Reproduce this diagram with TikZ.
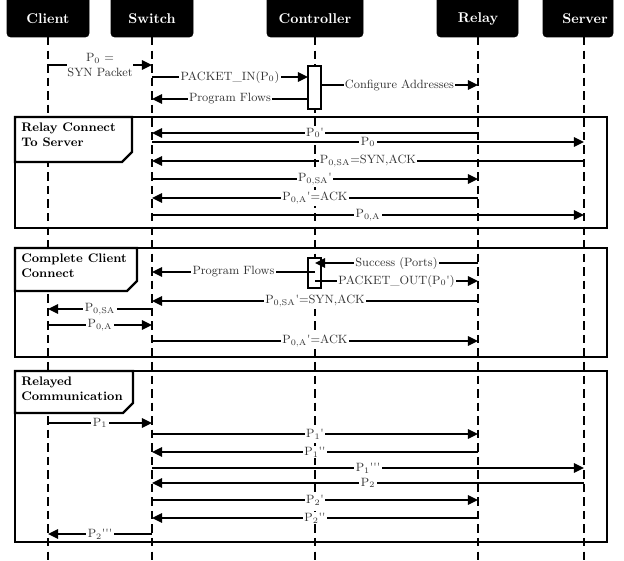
\documentclass[tikz,border=0pt]{standalone}
\usetikzlibrary{arrows.meta}
\newcommand{\pr}{\textquotesingle}
\newcommand{\Pk}[1]{P\textsubscript{#1}}
\begin{document}
\begin{tikzpicture}[x=0.709pt,y=-0.709pt,
  hdrbox/.style={fill=black,draw=black,rounded corners=2.5pt},
  hdrtext/.style={text=white,font=\bfseries,inner sep=0pt},
  life/.style={line width=1.4pt,dash pattern=on 6pt off 3.6pt},
  msg/.style={line width=0.95pt,-{Triangle[length=7.2pt,width=6.8pt]}},
  lbl/.style={midway,fill=white,inner sep=1pt,font=\fontsize{8.5}{10}\selectfont,text=black!80},
  frm/.style={line width=1.6pt},
  tab/.style={line width=1.6pt,fill=white},
  ttl/.style={anchor=north west,inner sep=0pt,align=left,font=\fontsize{8.8}{10.5}\selectfont\bfseries},
  act/.style={line width=0.9pt,fill=white}]
\useasboundingbox (0,0) rectangle (624,561);
% lifeline coordinates
\coordinate (cl) at (48,37);
\coordinate (sw) at (152,37);
\coordinate (co) at (315,37);
\coordinate (re) at (478,37);
\coordinate (se) at (584,37);
\coordinate (a1w) at (308,0);
\coordinate (a1e) at (321,0);
% headers
\draw[hdrbox] (7,-8) rectangle (89,37);
\draw[hdrbox] (111,-8) rectangle (193,37);
\draw[hdrbox] (267,-8) rectangle (363,37);
\draw[hdrbox] (437,-8) rectangle (518,37);
\draw[hdrbox] (543,-8) rectangle (613,37);
\node[hdrtext] (hcl) at (48,19) {Client};
\node[hdrtext] (hsw) at (152,19) {Switch};
\node[hdrtext] (hco) at (315,19) {Controller};
\node[hdrtext] (hre) at (478,19) {Relay};
\node[hdrtext] (hse) at (585,19) {Server};
% lifelines
\foreach \l in {cl,sw,co,re,se} \draw[life] (\l) -- (\l |- 0,566);
% frames
\draw[frm] (15,117) rectangle (607,228);
\draw[tab] (15,117) -- (132,117) -- (132,152) -- (122,162) -- (15,162) -- cycle;
\node[ttl] (t1) at (21,123) {Relay Connect\\To Server};
\draw[frm] (15,248) rectangle (607,357);
\draw[tab] (15,248) -- (137,248) -- (137,281) -- (127,291) -- (15,291) -- cycle;
\node[ttl] (t2) at (21,254) {Complete Client\\Connect};
\draw[frm] (15,371) rectangle (607,542);
\draw[tab] (15,371) -- (133,371) -- (133,403) -- (123,413) -- (15,413) -- cycle;
\node[ttl] (t3) at (21,377) {Relayed\\Communication};
% activations
\draw[act] (308,66) rectangle (321,109);
\draw[act] (308,258) rectangle (321,288);
% top messages
\draw[msg] (cl |- 0,65) -- node[lbl,align=center,inner sep=0.5pt]{\Pk{0} =\\SYN Packet} (sw |- 0,65);
\draw[msg] (sw |- 0,77) -- node[lbl]{PACKET\_IN(\Pk{0})} (a1w |- 0,77);
\draw[msg] (a1e |- 0,85) -- node[lbl]{Configure Addresses} (re |- 0,85);
\draw[msg] (a1w |- 0,99) -- node[lbl]{Program Flows} (sw |- 0,99);
% frame 1
\draw[msg] (re |- 0,133) -- node[lbl]{\Pk{0}\pr} (sw |- 0,133);
\draw[msg] (sw |- 0,142) -- node[lbl]{\Pk{0}} (se |- 0,142);
\draw[msg] (se |- 0,161) -- node[lbl]{\Pk{0,SA}=SYN,ACK} (sw |- 0,161);
\draw[msg] (sw |- 0,179) -- node[lbl]{\Pk{0,SA}\pr} (re |- 0,179);
\draw[msg] (re |- 0,198) -- node[lbl]{\Pk{0,A}\pr=ACK} (sw |- 0,198);
\draw[msg] (sw |- 0,215) -- node[lbl]{\Pk{0,A}} (se |- 0,215);
% frame 2
\draw[msg] (re |- 0,263) -- node[lbl]{Success (Ports)} (co |- 0,263);
\draw[msg] (co |- 0,272) -- node[lbl]{Program Flows} (sw |- 0,272);
\draw[msg] (co |- 0,281) -- node[lbl]{PACKET\_OUT(\Pk{0}\pr)} (re |- 0,281);
\draw[msg] (re |- 0,301) -- node[lbl]{\Pk{0,SA}\pr=SYN,ACK} (sw |- 0,301);
\draw[msg] (sw |- 0,309) -- node[lbl]{\Pk{0,SA}} (cl |- 0,309);
\draw[msg] (cl |- 0,325) -- node[lbl]{\Pk{0,A}} (sw |- 0,325);
\draw[msg] (sw |- 0,341) -- node[lbl]{\Pk{0,A}\pr=ACK} (re |- 0,341);
% frame 3
\draw[msg] (cl |- 0,423) -- node[lbl]{\Pk{1}} (sw |- 0,423);
\draw[msg] (sw |- 0,434) -- node[lbl]{\Pk{1}\pr} (re |- 0,434);
\draw[msg] (re |- 0,452) -- node[lbl]{\Pk{1}\pr\pr} (sw |- 0,452);
\draw[msg] (sw |- 0,468) -- node[lbl]{\Pk{1}\pr\pr\pr} (se |- 0,468);
\draw[msg] (se |- 0,483) -- node[lbl]{\Pk{2}} (sw |- 0,483);
\draw[msg] (sw |- 0,500) -- node[lbl]{\Pk{2}\pr} (re |- 0,500);
\draw[msg] (re |- 0,518) -- node[lbl]{\Pk{2}\pr\pr} (sw |- 0,518);
\draw[msg] (sw |- 0,534) -- node[lbl]{\Pk{2}\pr\pr\pr} (cl |- 0,534);
\end{tikzpicture}
\end{document}
